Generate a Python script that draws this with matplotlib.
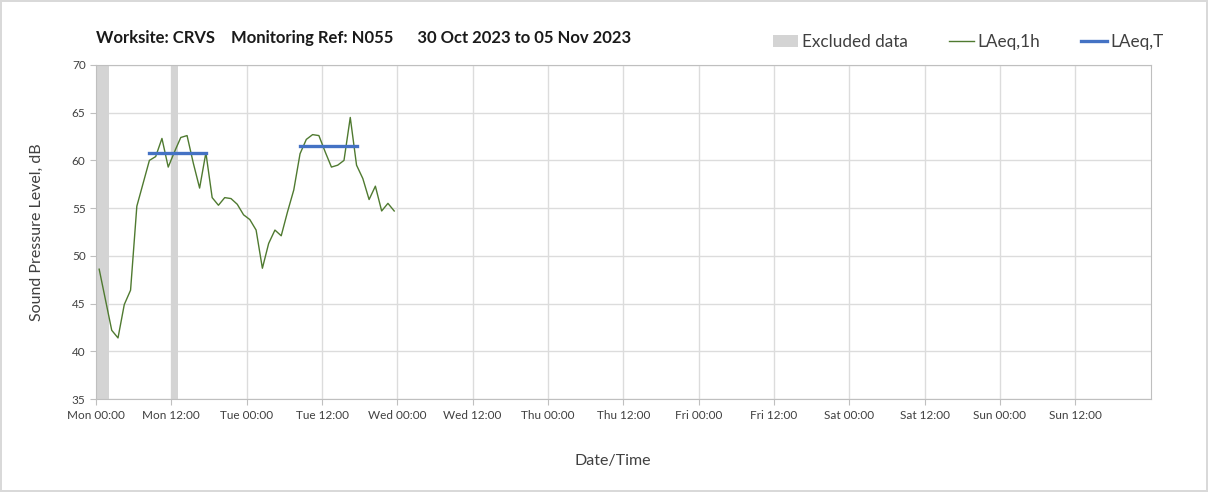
import numpy as np
import matplotlib
matplotlib.use("Agg")
import matplotlib.pyplot as plt
from matplotlib.patches import Patch
from matplotlib.lines import Line2D

plt.rcParams['font.family'] = ['Lato', 'DejaVu Sans']

# hourly LAeq,1h values, Mon 00:00 onwards (hour centres)
hours = np.arange(48) + 0.5
laeq_1h = [48.6, 45.4, 42.2, 41.4, 44.9, 46.4, 55.2, 57.6, 60.0, 60.4,
           62.3, 59.3, 60.9, 62.4, 62.6, 59.7, 57.1, 60.8, 56.1, 55.3,
           56.1, 56.0, 55.4, 54.3, 53.8, 52.7, 48.7, 51.3, 52.7, 52.1,
           54.6, 56.9, 60.7, 62.2, 62.7, 62.6, 60.9, 59.3, 59.5, 60.0,
           64.5, 59.5, 58.1, 55.9, 57.3, 54.7, 55.5, 54.7]

# LAeq,T over daytime periods (start hour, end hour, level)
laeq_t_start = [8.5, 32.5]
laeq_t_end = [17.5, 41.5]
laeq_t_level = [60.8, 61.5]

# excluded data periods (start hour, end hour)
excl_start = [0.0, 12.0]
excl_end = [2.0, 13.0]

tick_labels = ['Mon 00:00', 'Mon 12:00', 'Tue 00:00', 'Tue 12:00', 'Wed 00:00',
               'Wed 12:00', 'Thu 00:00', 'Thu 12:00', 'Fri 00:00', 'Fri 12:00',
               'Sat 00:00', 'Sat 12:00', 'Sun 00:00', 'Sun 12:00']

fig = plt.figure(figsize=(12.08, 4.92), dpi=100)
fig.patch.set_edgecolor('#d9d9d9')
fig.patch.set_linewidth(1.5)
ax = fig.add_axes([0.0795, 0.189, 0.873, 0.679])

for s, e in zip(excl_start, excl_end):
    ax.axvspan(s, e, color='#d4d4d4', lw=0, zorder=1)

ax.plot(hours, laeq_1h, color='#4f7a30', lw=1.0, zorder=3)
for s, e, v in zip(laeq_t_start, laeq_t_end, laeq_t_level):
    ax.plot([s, e], [v, v], color='#4472c4', lw=2.4, zorder=4)

ax.set_xlim(0, 168)
ax.set_ylim(35, 70)
ax.set_xticks(np.arange(0, 168, 12))
ax.set_xticklabels(tick_labels)
ax.set_yticks(np.arange(35, 71, 5))
ax.grid(True, color='#dcdcdc', lw=1.0, zorder=0)
ax.set_axisbelow(True)
for sp in ax.spines.values():
    sp.set_color('#bfbfbf')
ax.tick_params(axis='x', length=4, color='#bfbfbf', labelsize=8.5, labelcolor='#404040', pad=4)
ax.tick_params(axis='y', length=4, color='#bfbfbf', labelsize=8.5, labelcolor='#404040')

ax.set_ylabel('Sound Pressure Level, dB', fontsize=11.5, color='#404040', labelpad=20)
ax.set_xlabel('Date/Time', fontsize=11.5, color='#404040', labelpad=22)
ax.xaxis.set_label_coords(0.49, -0.165)

fig.text(0.0795, 0.922, 'Worksite: CRVS    Monitoring Ref: N055      30 Oct 2023 to 05 Nov 2023',
         fontsize=12, fontweight='bold', color='#1a1a1a', va='center')

handles = [Patch(facecolor='#d4d4d4', edgecolor='none'),
           Line2D([], [], color='#4f7a30', lw=1.0),
           Line2D([], [], color='#4472c4', lw=2.4)]
fig.legend(handles, ['Excluded data', 'LAeq,1h', 'LAeq,T'], ncol=3, frameon=False,
           loc='center right', bbox_to_anchor=(0.976, 0.915), fontsize=12.3,
           handlelength=1.5, handletextpad=0.2, columnspacing=2.4,
           labelcolor='#404040')

fig.savefig('out.png', dpi=100)
